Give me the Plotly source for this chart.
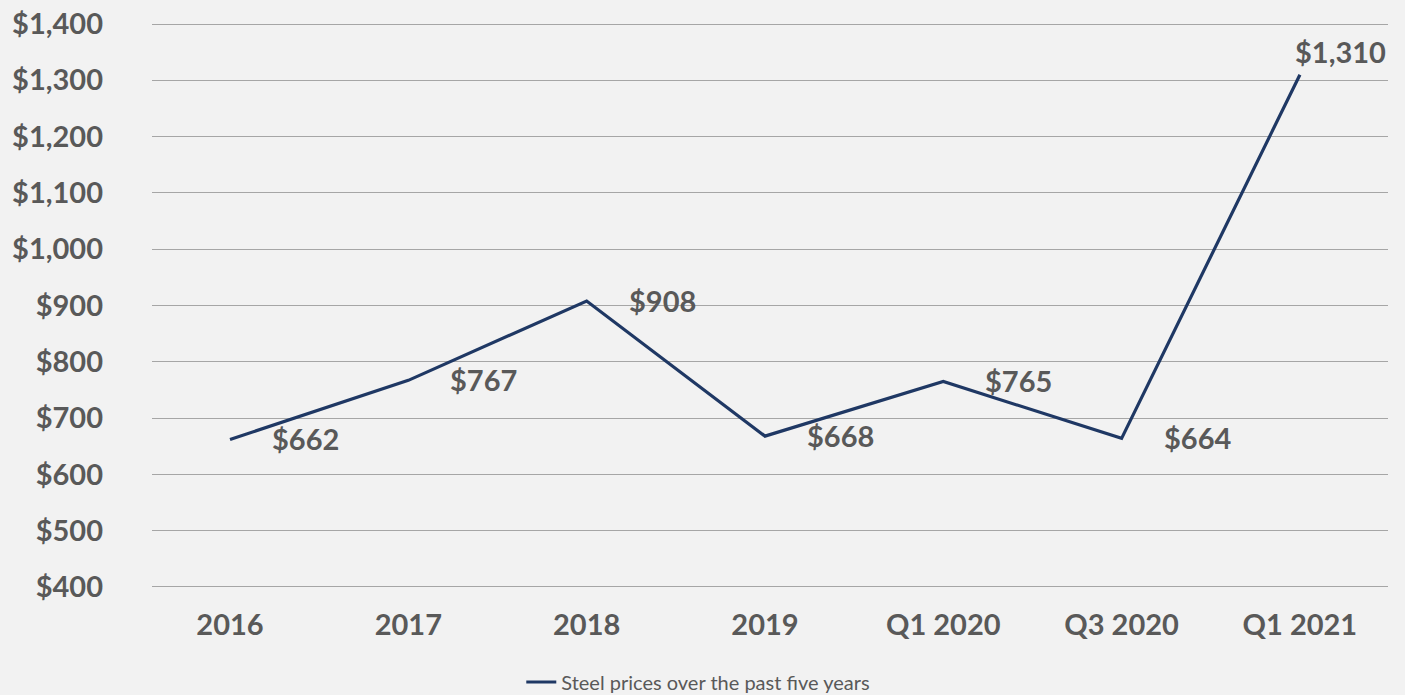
import plotly.graph_objects as go

categories = ["2016", "2017", "2018", "2019", "Q1 2020", "Q3 2020", "Q1 2021"]
prices = [662, 767, 908, 668, 765, 664, 1310]
price_labels = ["$662", "$767", "$908", "$668", "$765", "$664", "$1,310"]
y_ticks = [400, 500, 600, 700, 800, 900, 1000, 1100, 1200, 1300, 1400]
y_tick_labels = ["$400", "$500", "$600", "$700", "$800", "$900", "$1,000",
                 "$1,100", "$1,200", "$1,300", "$1,400"]
series_name = "Steel prices over the past five years"

BG = "#f2f2f2"
TXT = "#595959"
NAVY = "#1f3864"
FONT = "Lato"
FS = 29

fig = go.Figure()
fig.add_trace(go.Scatter(
    x=list(range(len(categories))), y=prices, mode="lines", name=series_name,
    line=dict(color=NAVY, width=3.2), showlegend=True,
))

annotations = []
for i, (v, t) in enumerate(zip(prices, price_labels)):
    if i == len(prices) - 1:
        annotations.append(dict(x=i, y=v, text=t, showarrow=False, xanchor="center",
                                yanchor="middle", xshift=41, yshift=23,
                                font=dict(family=FONT, size=FS, color=TXT, weight="bold")))
    else:
        annotations.append(dict(x=i, y=v, text=t, showarrow=False, xanchor="left",
                                yanchor="middle", xshift=40, yshift=1,
                                font=dict(family=FONT, size=FS, color=TXT, weight="bold")))

fig.update_layout(
    width=1405, height=695,
    paper_bgcolor=BG, plot_bgcolor=BG,
    margin=dict(l=152, r=17, t=23, b=107),
    font=dict(family=FONT, color=TXT),
    annotations=annotations,
    showlegend=True,
    legend=dict(orientation="h", xref="container", x=0.497, xanchor="center",
                yref="container", y=13/695, yanchor="middle",
                font=dict(family=FONT, size=20, color=TXT), bgcolor="rgba(0,0,0,0)"),
    xaxis=dict(
        range=[-0.4375, 6.494], tickmode="array",
        tickvals=list(range(len(categories))), ticktext=categories,
        showgrid=False, zeroline=False, showline=False, automargin=False,
        tickfont=dict(family=FONT, size=FS, color=TXT, weight="bold"),
        ticklabelstandoff=17,
    ),
    yaxis=dict(
        range=[398.2, 1401.8], tickmode="array", tickvals=y_ticks, ticktext=y_tick_labels,
        showgrid=True, gridcolor="#a6a6a6", gridwidth=1, zeroline=False, showline=False,
        automargin=False,
        tickfont=dict(family=FONT, size=FS, color=TXT, weight="bold"),
        ticklabelstandoff=48,
    ),
)

fig.write_html("out.html", config={"displayModeBar": False},
               post_script="document.body.style.margin='0';document.body.style.overflow='hidden';")
